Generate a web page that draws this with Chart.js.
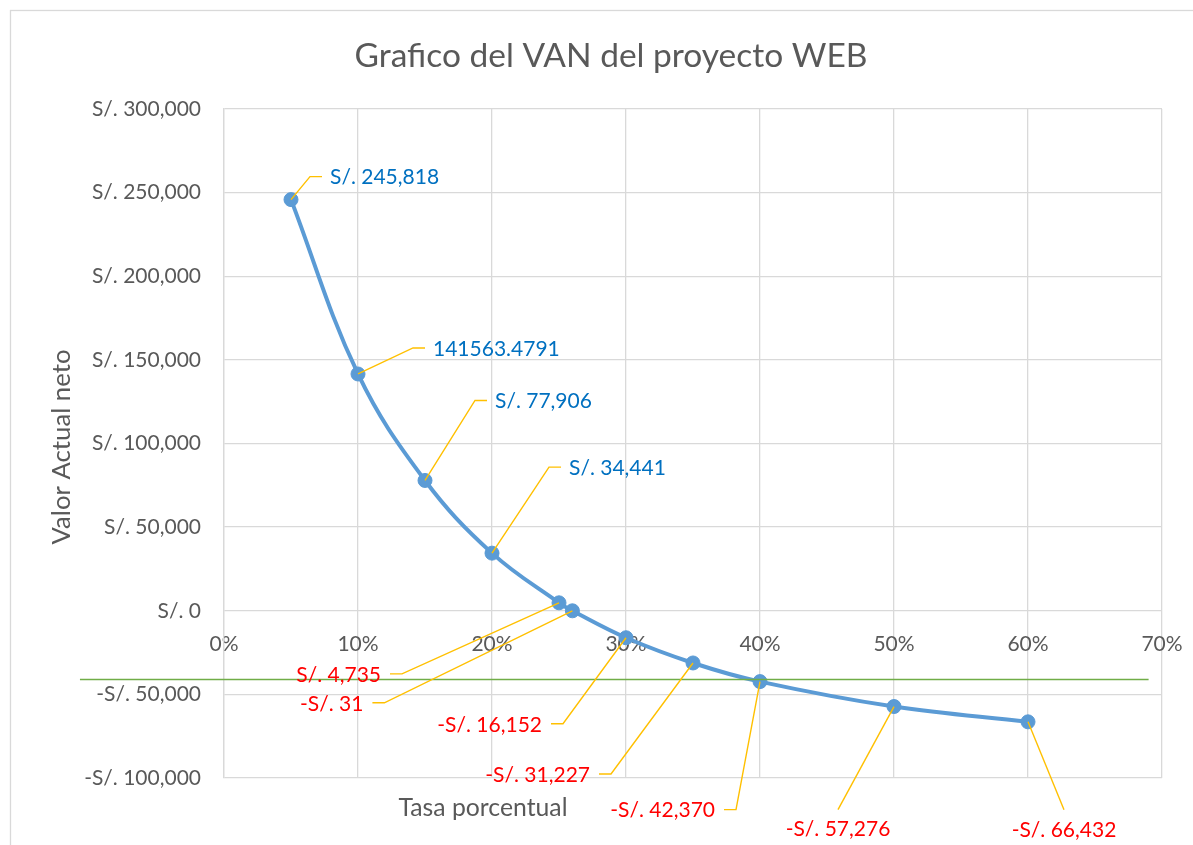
<!DOCTYPE html>
<html>
<head>
<meta charset="utf-8">
<script src="https://cdn.jsdelivr.net/npm/chart.js@4.4.1/dist/chart.umd.min.js"></script>
<style>
  html, body { margin: 0; padding: 0; background: #ffffff; }
  #wrap { position: relative; width: 1193px; height: 845px; }
</style>
</head>
<body>
<div id="wrap"><canvas id="grafico" width="1193" height="845"></canvas></div>
<script>
// Tasa de descuento (%) y VAN resultante (S/.)
const tasas = [5, 10, 15, 20, 25, 26, 30, 35, 40, 50, 60];
const van = [245818, 141563.4791, 77906, 34441, 4735, -31, -16152, -31227, -42370, -57276, -66432];
// Formato de cada etiqueta: moneda o número general
const formatos = ['moneda', 'general', 'moneda', 'moneda', 'moneda', 'moneda', 'moneda', 'moneda', 'moneda', 'moneda', 'moneda'];
// Ticks de los ejes
const ticksX = [0, 10, 20, 30, 40, 50, 60, 70];
const ticksY = [-100000, -50000, 0, 50000, 100000, 150000, 200000, 250000, 300000];
// Línea horizontal de referencia (valor del VAN y tramo en %)
const referenciaVAN = -40600;
const referenciaDesde = -10.75;
const referenciaHasta = 69.0;

const titulo = 'Grafico del VAN del proyecto WEB';
const tituloX = 'Tasa porcentual';
const tituloY = 'Valor Actual neto';

// Ubicación de cada rótulo: codo de la guía respecto al punto y lado del texto
const rotulos = [
  { dx: 19, dy: -23, lado: 'der', color: '#0070C0' },
  { dx: 55, dy: -26, lado: 'der', color: '#0070C0' },
  { dx: 50, dy: -80, lado: 'der', color: '#0070C0' },
  { dx: 57, dy: -86, lado: 'der', color: '#0070C0' },
  { dx: -157, dy: 71, lado: 'izq', color: '#FF0000' },
  { dx: -188, dy: 92, lado: 'izq', color: '#FF0000' },
  { dx: -63, dy: 86, lado: 'izq', color: '#FF0000' },
  { dx: -82, dy: 111, lado: 'izq', color: '#FF0000' },
  { dx: -24, dy: 128, lado: 'izq', color: '#FF0000' },
  { dx: -56, dy: 103, lado: 'abajo', color: '#FF0000' },
  { dx: 36, dy: 88, lado: 'abajo', color: '#FF0000' }
];

const FUENTE = 'Lato, "Open Sans", sans-serif';
const GRIS_TEXTO = '#595959';
const GRIS_REJILLA = '#d9d9d9';
const TAM_TICKS = 21;

function soles(v) {
  const n = Math.round(Math.abs(v)).toLocaleString('en-US');
  return (v < 0 ? '-' : '') + 'S/. ' + n;
}
function textoRotulo(i) {
  return formatos[i] === 'general' ? String(van[i]) : soles(van[i]);
}
// Tamaño de letra para que un texto ocupe un ancho dado
function ajustarFuente(ctx, texto, ancho) {
  ctx.font = '100px ' + FUENTE;
  return 100 * ancho / ctx.measureText(texto).width;
}

const puntos = tasas.map((t, i) => ({ x: t, y: van[i] }));

const decoracion = {
  id: 'decoracion',
  beforeDraw(chart) {
    const ctx = chart.ctx;
    ctx.save();
    ctx.fillStyle = '#ffffff';
    ctx.fillRect(0, 0, chart.width, chart.height);
    ctx.strokeStyle = GRIS_REJILLA;
    ctx.lineWidth = 1.3;
    ctx.strokeRect(10.5, 10.5, chart.width + 50, chart.height + 50);
    ctx.restore();
  },
  afterDraw(chart) {
    const ctx = chart.ctx;
    const area = chart.chartArea;
    const sx = chart.scales.x, sy = chart.scales.y;
    ctx.save();
    // títulos
    ctx.fillStyle = GRIS_TEXTO;
    ctx.textAlign = 'center';
    ctx.textBaseline = 'middle';
    let t = ajustarFuente(ctx, titulo, 513);
    ctx.font = t + 'px ' + FUENTE;
    ctx.fillText(titulo, 611, 56);
    t = ajustarFuente(ctx, tituloX, 169);
    ctx.font = t + 'px ' + FUENTE;
    ctx.fillText(tituloX, 483, 808);
    t = ajustarFuente(ctx, tituloY, 195);
    ctx.font = t + 'px ' + FUENTE;
    ctx.save();
    ctx.translate(62, 447);
    ctx.rotate(-Math.PI / 2);
    ctx.fillText(tituloY, 0, 0);
    ctx.restore();

    // línea de referencia
    const yRef = Math.round(sy.getPixelForValue(referenciaVAN)) + 0.5;
    ctx.strokeStyle = '#70AD47';
    ctx.lineWidth = 1.5;
    ctx.beginPath();
    ctx.moveTo(sx.getPixelForValue(referenciaDesde), yRef);
    ctx.lineTo(sx.getPixelForValue(referenciaHasta), yRef);
    ctx.stroke();

    // rótulos con guías
    const meta = chart.getDatasetMeta(0);
    ctx.font = TAM_TICKS + 'px ' + FUENTE;
    rotulos.forEach((r, i) => {
      const p = meta.data[i];
      const ex = p.x + r.dx, ey = p.y + r.dy;
      ctx.strokeStyle = '#FFC000';
      ctx.lineWidth = 1.4;
      ctx.beginPath();
      ctx.moveTo(p.x, p.y);
      ctx.lineTo(ex, ey);
      let tx = ex, ty = ey + 1;
      if (r.lado === 'der') { ctx.lineTo(ex + 12, ey); tx = ex + 20; ctx.textAlign = 'left'; }
      else if (r.lado === 'izq') { ctx.lineTo(ex - 12, ey); tx = ex - 21; ctx.textAlign = 'right'; }
      else { ty = ey + 20; ctx.textAlign = 'center'; }
      ctx.stroke();
      ctx.fillStyle = r.color;
      ctx.textBaseline = 'middle';
      ctx.fillText(textoRotulo(i), tx, ty);
    });
    ctx.restore();
  }
};

new Chart(document.getElementById('grafico'), {
  type: 'scatter',
  data: {
    datasets: [{
      label: 'VAN',
      data: puntos,
      showLine: true,
      tension: 0.38,
      borderColor: '#5B9BD5',
      backgroundColor: '#5B9BD5',
      borderWidth: 4,
      pointRadius: 7,
      pointBorderWidth: 1,
      pointBorderColor: '#5B9BD5',
      pointBackgroundColor: '#5B9BD5'
    }]
  },
  options: {
    responsive: false,
    animation: false,
    events: [],
    layout: { padding: { left: 0, top: 109, right: 31, bottom: 67 } },
    plugins: { legend: { display: false }, tooltip: { enabled: false }, title: { display: false } },
    scales: {
      x: {
        type: 'linear',
        position: { y: 0 },
        min: ticksX[0],
        max: ticksX[ticksX.length - 1],
        afterBuildTicks(scale) { scale.ticks = ticksX.map(v => ({ value: v })); },
        ticks: {
          color: GRIS_TEXTO,
          font: { family: FUENTE, size: TAM_TICKS },
          padding: 0,
          maxRotation: 0,
          callback: v => v + '%'
        },
        grid: { color: GRIS_REJILLA, lineWidth: 1.3, drawTicks: true, tickLength: 21, tickColor: 'rgba(0,0,0,0)' },
        border: { display: false }
      },
      y: {
        type: 'linear',
        min: ticksY[0],
        max: ticksY[ticksY.length - 1],
        afterBuildTicks(scale) { scale.ticks = ticksY.map(v => ({ value: v })); },
        afterFit(scale) { scale.width = 224; },
        ticks: {
          color: GRIS_TEXTO,
          font: { family: FUENTE, size: TAM_TICKS },
          padding: 23,
          callback: v => soles(v)
        },
        grid: { color: GRIS_REJILLA, lineWidth: 1.3, drawTicks: false },
        border: { color: GRIS_REJILLA, width: 1.3 }
      }
    }
  },
  plugins: [decoracion]
});
</script>
</body>
</html>
